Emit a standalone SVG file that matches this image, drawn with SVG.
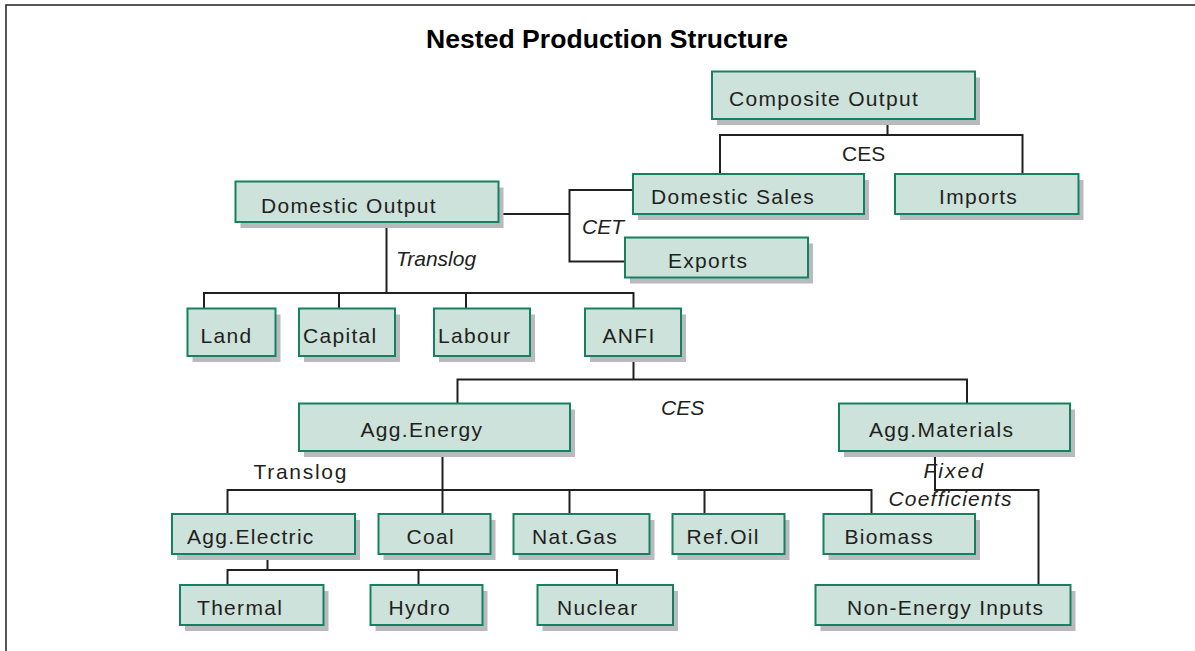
<svg xmlns="http://www.w3.org/2000/svg" width="1195" height="651" viewBox="0 0 1195 651">
<style>
.box{fill:#cde2da;stroke:#168161;stroke-width:2}
.sh{fill:#b9babe}
.lbl{font-family:"Liberation Sans",Arial,sans-serif;font-size:21px;letter-spacing:1.3px;fill:#231f20}
.ann{font-family:"Liberation Sans",Arial,sans-serif;font-size:21px;fill:#231f20}
.it{font-style:italic}
.con{fill:none;stroke:#231f20;stroke-width:2}
.title{font-family:"Liberation Sans",Arial,sans-serif;font-size:26px;font-weight:bold;fill:#000}
</style>
<rect width="1195" height="651" fill="#fff"/>
<path d="M6,651 V5 H1195" fill="none" stroke="#231f20" stroke-width="1.5"/>
<text class="title" x="426" y="47.5" textLength="362" lengthAdjust="spacingAndGlyphs">Nested Production Structure</text>

<g id="connectors">
<path class="con" d="M887.5,119 V135 M720,174 V135 H1022.5 V174"/>
<path class="con" d="M498.5,214 H569.5 M633,190 H569.5 V261.5 H625"/>
<path class="con" d="M386.5,222 V293 M204,308.5 V293 H633.5 V308.5 M339,293 V308.5 M466,293 V308.5"/>
<path class="con" d="M633.5,356 V379.5 M457.5,403.5 V379.5 H967 V403.5"/>
<path class="con" d="M442.5,451 V514 M227.5,514 V490 H871.5 V514 M569.5,490 V514 M704.5,490 V514"/>
<path class="con" d="M267.5,554 V570 M227.5,585 V570 H617 V585 M418.5,570 V585"/>
<path class="con" d="M935,451 V490 H1038.5 V585"/>
<text class="ann" x="842" y="161">CES</text>
<text class="ann it" x="582" y="234">CET</text>
<text class="ann it" x="396" y="266">Translog</text>
<text class="ann it" x="661" y="415">CES</text>
<text class="ann" x="253.5" y="478.5" letter-spacing="1.7">Translog</text>
<text class="ann it" x="923.5" y="478" letter-spacing="2">Fixed</text>
<text class="ann it" x="888.5" y="506" letter-spacing="1.2">Coefficients</text>
</g>

<g id="composite-output"><rect class="sh" x="717" y="77.5" width="263" height="47.5"/><rect class="box" x="712" y="71.5" width="263" height="47.5"/><text class="lbl" x="729" y="106">Composite Output</text></g>
<g id="domestic-sales"><rect class="sh" x="638" y="180" width="231" height="40"/><rect class="box" x="633" y="174" width="231" height="40"/><text class="lbl" x="651" y="204">Domestic Sales</text></g>
<g id="imports"><rect class="sh" x="900" y="180" width="183.5" height="40"/><rect class="box" x="895" y="174" width="183.5" height="40"/><text class="lbl" x="939" y="204">Imports</text></g>
<g id="domestic-output"><rect class="sh" x="240.5" y="187.5" width="263" height="40.5"/><rect class="box" x="235.5" y="181.5" width="263" height="40.5"/><text class="lbl" x="261" y="212.5">Domestic Output</text></g>
<g id="exports"><rect class="sh" x="630" y="243.5" width="183" height="40"/><rect class="box" x="625" y="237.5" width="183" height="40"/><text class="lbl" x="668" y="268">Exports</text></g>
<g id="land"><rect class="sh" x="192.5" y="314.5" width="88" height="47.5"/><rect class="box" x="187.5" y="308.5" width="88" height="47.5"/><text class="lbl" x="200.5" y="343">Land</text></g>
<g id="capital"><rect class="sh" x="304" y="314.5" width="96" height="47.5"/><rect class="box" x="299" y="308.5" width="96" height="47.5"/><text class="lbl" x="303" y="343">Capital</text></g>
<g id="labour"><rect class="sh" x="439" y="314.5" width="96" height="47.5"/><rect class="box" x="434" y="308.5" width="96" height="47.5"/><text class="lbl" x="438" y="343">Labour</text></g>
<g id="anfi"><rect class="sh" x="590" y="314.5" width="96" height="47.5"/><rect class="box" x="585" y="308.5" width="96" height="47.5"/><text class="lbl" x="602.5" y="343">ANFI</text></g>
<g id="agg-energy"><rect class="sh" x="304" y="409.5" width="271" height="47.5"/><rect class="box" x="299" y="403.5" width="271" height="47.5"/><text class="lbl" x="360.5" y="437">Agg.Energy</text></g>
<g id="agg-materials"><rect class="sh" x="844" y="409.5" width="231" height="47.5"/><rect class="box" x="839" y="403.5" width="231" height="47.5"/><text class="lbl" x="869" y="437">Agg.Materials</text></g>
<g id="agg-electric"><rect class="sh" x="177" y="520" width="183" height="40"/><rect class="box" x="172" y="514" width="183" height="40"/><text class="lbl" x="187" y="544">Agg.Electric</text></g>
<g id="coal"><rect class="sh" x="383.5" y="520" width="112" height="40"/><rect class="box" x="378.5" y="514" width="112" height="40"/><text class="lbl" x="406.5" y="544">Coal</text></g>
<g id="nat-gas"><rect class="sh" x="518.5" y="520" width="136" height="40"/><rect class="box" x="513.5" y="514" width="136" height="40"/><text class="lbl" x="532" y="544">Nat.Gas</text></g>
<g id="ref-oil"><rect class="sh" x="677.5" y="520" width="112" height="40"/><rect class="box" x="672.5" y="514" width="112" height="40"/><text class="lbl" x="686.5" y="544">Ref.Oil</text></g>
<g id="biomass"><rect class="sh" x="828.5" y="520" width="151.5" height="40"/><rect class="box" x="823.5" y="514" width="151.5" height="40"/><text class="lbl" x="844.5" y="544">Biomass</text></g>
<g id="thermal"><rect class="sh" x="185" y="591" width="143.5" height="40"/><rect class="box" x="180" y="585" width="143.5" height="40"/><text class="lbl" x="197" y="615">Thermal</text></g>
<g id="hydro"><rect class="sh" x="375.5" y="591" width="112" height="40"/><rect class="box" x="370.5" y="585" width="112" height="40"/><text class="lbl" x="388.5" y="615">Hydro</text></g>
<g id="nuclear"><rect class="sh" x="542.5" y="591" width="135.5" height="40"/><rect class="box" x="537.5" y="585" width="135.5" height="40"/><text class="lbl" x="557" y="615">Nuclear</text></g>
<g id="non-energy-inputs"><rect class="sh" x="820.5" y="591" width="255" height="40"/><rect class="box" x="815.5" y="585" width="255" height="40"/><text class="lbl" x="847" y="615">Non-Energy Inputs</text></g>
</svg>
